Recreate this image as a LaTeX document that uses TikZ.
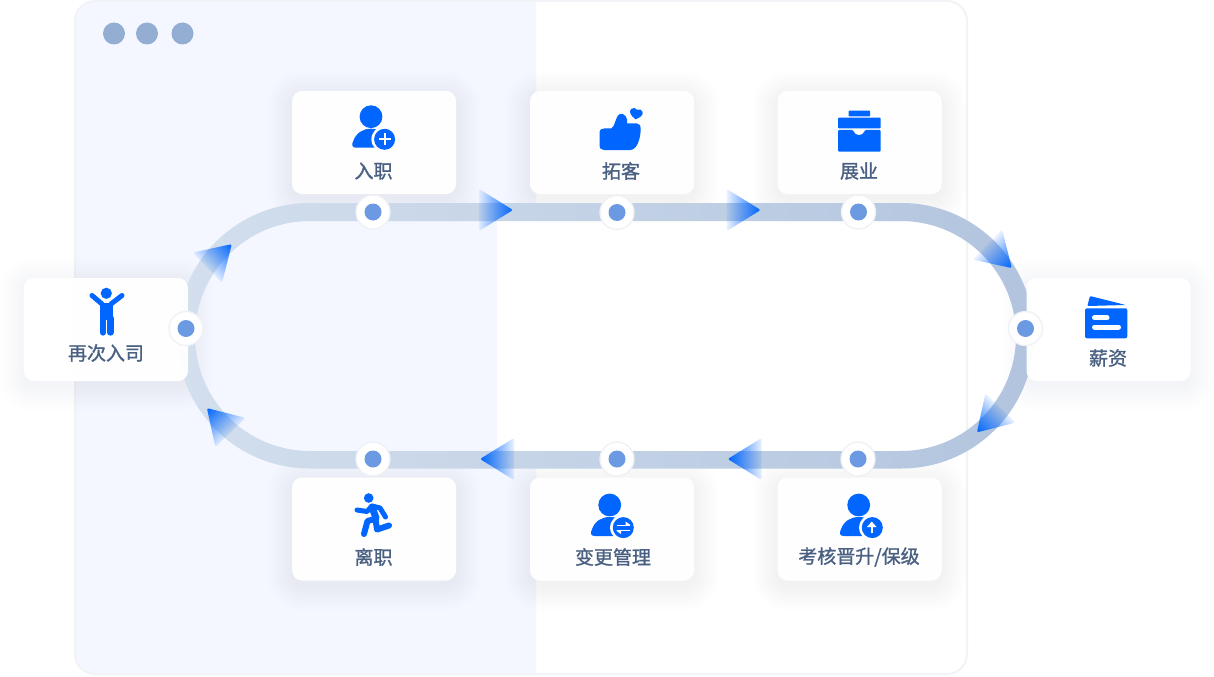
\documentclass[tikz,border=0pt]{standalone}
\usepackage{fontspec}
\setmainfont{Noto Sans CJK SC}[FakeBold=1.3]
\usetikzlibrary{fadings}
\definecolor{iconblue}{HTML}{0066FF}
\definecolor{paneltint}{HTML}{F4F7FF}
\definecolor{panelline}{HTML}{F2F3F6}
\definecolor{labelink}{HTML}{4A6082}
\definecolor{trackleft}{HTML}{D3DFED}
\definecolor{trackright}{HTML}{B2C4DE}
\definecolor{stopdot}{HTML}{6B9AE2}
\definecolor{stopline}{HTML}{EFF1F5}
\definecolor{winddot}{HTML}{94AED3}
\definecolor{shadowink}{HTML}{2A3A7A}
\tikzfading[name=headfade, left color=transparent!92, middle color=transparent!28, right color=transparent!0]
\tikzset{
  card/.style={rectangle, rounded corners=3mm, fill=white, fill opacity=.97,
    minimum width=4.92cm, minimum height=3.09cm, inner sep=0},
  cardtext/.style={text=labelink, inner sep=0, font=\fontsize{16.2pt}{18pt}\selectfont},
  stopring/.style={circle, fill=white, draw=stopline, line width=.4mm, minimum size=1.02cm, inner sep=0},
  stopcore/.style={circle, fill=stopdot, minimum size=.51cm, inner sep=0},
  flowhead/.style={fill=iconblue, rounded corners=.6mm, path fading=headfade},
  pics/person/.style={code={
    \fill[iconblue] (0,0) circle (11.4);
    \fill[iconblue] (-15,31) .. controls (-19,31) and (-19.5,28) .. (-18,25)
      .. controls (-15,16) and (-8,12) .. (0,12) .. controls (9,12) and (16,16) .. (19,25) -- (19,31) -- cycle;
    \fill[white] (13.6,22.6) circle (13.2);
    \fill[iconblue] (13.6,22.6) circle (10.5);
  }}
}
\begin{document}
\begin{tikzpicture}[x=.03cm,y=-.03cm]
  \useasboundingbox (0,0) rectangle (1214,676);
  % Draw panel and its tinted side
  \fill[white, rounded corners=6mm] (75,1) rectangle (967,674);
  \begin{scope}
    \clip[rounded corners=6mm] (75,1) rectangle (967,674);
    \fill[paneltint] (75,0) -- (536,0) -- (536,212) -- (497,212) -- (497,459) -- (536,459) -- (536,676) -- (75,676) -- cycle;
  \end{scope}
  \draw[panelline, line width=.6mm, rounded corners=6mm] (75,1) rectangle (967,674);
  \foreach \dotx in {114,147,182.5} {
    \fill[winddot] (\dotx, 33.5) circle (11); }
  % Draw soft shadows under the cards
  \foreach \cx/\cy in {106/329.5,374/142.5,612/142.5,859.5/142.5,1108.5/329.5,859.5/529,612/529,374/529} {
    \foreach \spread in {1,3,...,25} {
      \fill[shadowink, opacity=.0036, rounded corners=3mm+\spread*.3mm]
        (\cx-82-\spread, \cy-51.5+5-\spread) rectangle (\cx+82+\spread, \cy+51.5+5+\spread); } }
  % Draw the loop
  \path[even odd rule, left color=trackleft, right color=trackright]
    [rounded corners=3.98cm] (177,203) rectangle (1034,468.5)
    [rounded corners=3.45cm] (195,221) rectangle (1016,451);
  % Draw cards and their labels
  \foreach \name/\cx/\cy in {rejoin/106/329.5,onboard/374/142.5,prospect/612/142.5,expand/859.5/142.5,
    salary/1108.5/329.5,promote/859.5/529,change/612/529,leave/374/529} {
    \node[card] (\name) at (\cx,\cy) {}; }
  \node[cardtext] (rejoinlabel) at (106,353) {再次入司};
  \node[cardtext] (onboardlabel) at (373.5,171) {入职};
  \node[cardtext] (prospectlabel) at (621,171) {拓客};
  \node[cardtext] (expandlabel) at (859,171) {展业};
  \node[cardtext] (salarylabel) at (1108,358) {薪资};
  \node[cardtext] (promotelabel) at (859,557) {考核晋升/保级};
  \node[cardtext] (changelabel) at (613,557) {变更管理};
  \node[cardtext] (leavelabel) at (373.5,557) {离职};
  % Draw arrow heads along the loop
  \foreach \hx/\hy/\hangle in {479/210/0,726.7/210/0,514/459/180,761.7/459/180,
    987.4/244.5/-44,1000.5/408/-134,207.4/267.7/44,230.5/432.5/134} {
    \fill[flowhead, transform canvas={shift={(\hx,\hy)},rotate=\hangle}] (34,0) -- (0,-21) -- (0,21) -- cycle; }
  % Draw stops on the loop
  \foreach \name/\sx/\sy in {rejoin/186/328.5,onboard/373/212,prospect/617/212.5,expand/858.5/212,
    salary/1025.5/328.5,promote/858/459,change/617/459,leave/373/459} {
    \node[stopring] (stop\name) at (\sx,\sy) {};
    \node[stopcore] (core\name) at (stop\name) {}; }
  % Draw icons
  \pic at (371,116.7) {person};
  \draw[white, line width=.7mm] (379,139.3) -- (391,139.3) (385,133.3) -- (385,145.3);
  \pic at (609.7,505) {person};
  \draw[white, line width=.3mm] (617,525) -- (629.5,525) (617,530.5) -- (629.5,530.5);
  \fill[white] (630.5,525) -- (625.5,521.5) -- (625.5,525) -- cycle (616,530.5) -- (621,534) -- (621,530.5) -- cycle;
  \pic at (858.7,505) {person};
  \draw[white, line width=.6mm] (871.7,533) -- (871.7,525);
  \fill[white] (871.7,521.5) -- (876.5,527) -- (867,527) -- cycle;
  % thumb and heart
  \fill[iconblue] (604,128.5) -- (611,128.5) .. controls (615,128) and (615,116) .. (620,114)
    .. controls (625,113) and (628,118) .. (627,123.5) -- (637,123.5)
    .. controls (640,123.5) and (641,126) .. (640.7,129) .. controls (640.5,139) and (637,150) .. (630,150)
    -- (604,150) .. controls (601,150) and (599.5,148) .. (599.5,146) -- (599.5,132)
    .. controls (599.5,130) and (601,128.5) .. (604,128.5) -- cycle;
  \fill[iconblue] (635.5,119.3) .. controls (630,115) and (629,112) .. (631,109)
    .. controls (633,107) and (636,108) .. (636.5,109.5)
    .. controls (639,108.5) and (642.7,110) .. (642.7,113) .. controls (642.7,116) and (639,118) .. (635.5,119.3) -- cycle;
  % briefcase
  \fill[iconblue, rounded corners=.2mm] (848.7,116.5) rectangle (870,110.7);
  \fill[iconblue, rounded corners=.3mm] (838,117.7) rectangle (880.7,128.3);
  \fill[iconblue, rounded corners=.3mm] (838,130) -- (853,130) .. controls (855,136.5) and (863,136.5) .. (865,130)
    -- (880.7,130) -- (880.7,151.7) -- (838,151.7) -- cycle;
  % wallet
  \fill[iconblue, rounded corners=.3mm] (1090,296) -- (1125.7,305) -- (1087.3,306) -- cycle;
  \fill[iconblue, rounded corners=.6mm] (1085,308.3) rectangle (1127.3,338.3);
  \draw[white, line width=1.5mm, line cap=round] (1094.5,317.7) -- (1107,317.7) (1094.5,327) -- (1118.5,327);
  % person with raised arms
  \fill[iconblue] (106.3,293.3) circle (5.6);
  \draw[iconblue, line width=1.5mm, line cap=round, line join=round] (92,295.5) -- (102,304) (122,295.5) -- (111,304);
  \fill[iconblue] (99.7,303) -- (113,303) -- (113,320) -- (99.7,320) -- cycle;
  \draw[iconblue, line width=1.9mm, line cap=round] (103,318) -- (103,332.5) (110.4,318) -- (110.4,332.5);
  % runner
  \fill[iconblue] (368.7,498) circle (4.8);
  \draw[iconblue, line width=1.5mm, line cap=round, line join=round]
    (357,510) -- (367,511.5) -- (372,506) -- (380,508) -- (385.5,517);
  \draw[iconblue, line width=2.1mm, line cap=round, line join=round] (372,507) -- (376,518);
  \draw[iconblue, line width=1.8mm, line cap=round, line join=round]
    (375,519) -- (367.5,521) -- (364,534) (375.5,519) -- (377,529.5) -- (389,525.5);
\end{tikzpicture}
\end{document}
